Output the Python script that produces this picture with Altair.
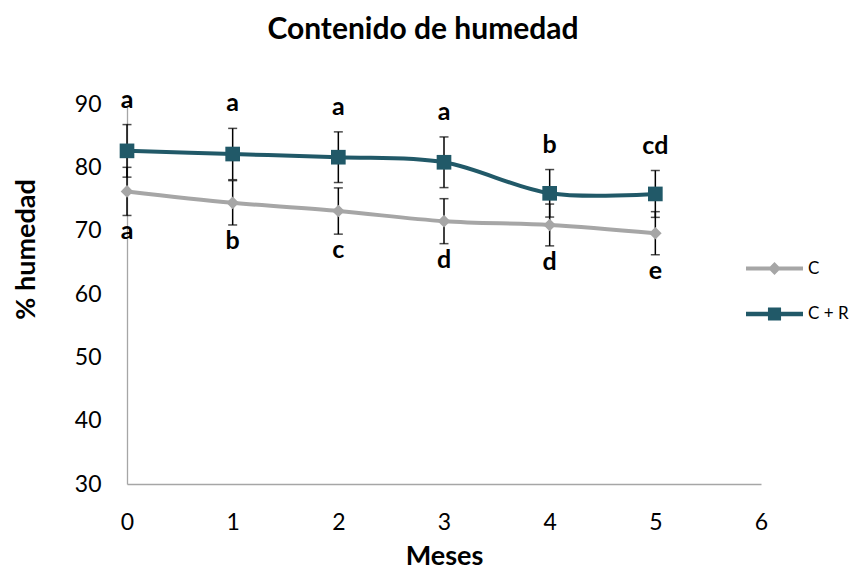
import altair as alt
import pandas as pd

meses = [0, 1, 2, 3, 4, 5]
c_vals = [76.2, 74.4, 73.1, 71.5, 70.9, 69.6]
c_err = [3.8, 3.5, 3.65, 3.55, 3.3, 3.4]
c_letras = ["a", "b", "c", "d", "d", "e"]
cr_vals = [82.6, 82.1, 81.6, 80.8, 75.9, 75.8]
cr_err = [4.15, 4.05, 4.0, 4.0, 3.75, 3.7]
cr_letras = ["a", "a", "a", "a", "b", "cd"]
series = ["C", "C + R"]
colores = ["#A6A6A6", "#215968"]
x_ticks = [0, 1, 2, 3, 4, 5, 6]
y_ticks = [30, 40, 50, 60, 70, 80, 90]

FONT = "Lato"


def make_df(vals, errs, letras, name):
    df = pd.DataFrame({"mes": meses, "val": vals, "err": errs, "letra": letras})
    df["serie"] = name
    df["lo"] = df["val"] - df["err"]
    df["hi"] = df["val"] + df["err"]
    return df


df_c = make_df(c_vals, c_err, c_letras, series[0])
df_cr = make_df(cr_vals, cr_err, cr_letras, series[1])
df_all = pd.concat([df_c, df_cr], ignore_index=True)

xscale = alt.Scale(domain=[0, 6], nice=False, zero=False)
yscale = alt.Scale(domain=[30, 90], nice=False, zero=False)
xaxis = alt.Axis(values=x_ticks, labelPadding=27, format="d", labelFlush=False,
                 titleX=317, titleY=80, titleAlign="center", titleBaseline="alphabetic")
yaxis = alt.Axis(values=y_ticks, labelPadding=26, titleX=-101, titleY=145, labelFlush=False,
                 titleAngle=270, titleAlign="center", titleBaseline="middle")


def X():
    return alt.X("mes:Q", scale=xscale, axis=xaxis, title="Meses")


def Y(field):
    return alt.Y(f"{field}:Q", scale=yscale, axis=yaxis, title="% humedad")


layers = []
# lines
for df, col in [(df_c, colores[0]), (df_cr, colores[1])]:
    layers.append(alt.Chart(df).mark_line(interpolate="cardinal", color=col, strokeWidth=4)
                  .encode(x=X(), y=Y("val")))
# error bars
for df in [df_c, df_cr]:
    base = alt.Chart(df)
    layers.append(base.mark_rule(color="black", strokeWidth=1.5).encode(x=X(), y=Y("lo"), y2="hi:Q"))
    layers.append(base.mark_tick(orient="horizontal", color="black", size=9, thickness=1.5)
                  .encode(x=X(), y=Y("lo")))
    layers.append(base.mark_tick(orient="horizontal", color="black", size=9, thickness=1.5)
                  .encode(x=X(), y=Y("hi")))
# points
layers.append(alt.Chart(df_c).mark_point(shape="diamond", filled=True, opacity=1, size=160, color=colores[0])
              .encode(x=X(), y=Y("val")))
layers.append(alt.Chart(df_cr).mark_point(shape="square", filled=True, opacity=1, size=215, color=colores[1])
              .encode(x=X(), y=Y("val")))
# letters
layers.append(alt.Chart(df_cr).mark_text(font=FONT, fontSize=25, fontWeight="bold", color="black",
                                         baseline="alphabetic", dy=-17)
              .encode(x=X(), y=Y("hi"), text="letra:N"))
layers.append(alt.Chart(df_c).mark_text(font=FONT, fontSize=25, fontWeight="bold", color="black",
                                        baseline="alphabetic", dy=24)
              .encode(x=X(), y=Y("lo"), text="letra:N"))

# legend carrier (invisible)
leg = alt.Legend(title=None, orient="none", legendX=633, legendY=150, symbolOpacity=1,
                 symbolSize=812, labelFont=FONT, labelFontSize=17, labelColor="black", labelOffset=19,
                 rowPadding=22.5, padding=0, symbolStrokeWidth=0)
paths = [
    "M-2,-0.14H2V0.14H-2Z M0,-0.45L0.45,0L0,0.45L-0.45,0Z",
    "M-2,-0.16H2V0.16H-2Z M-0.46,-0.46H0.46V0.46H-0.46Z",
]
layers.append(alt.Chart(df_all).mark_point(filled=True, opacity=0, size=812)
              .encode(x=X(), y=Y("val"),
                      color=alt.Color("serie:N", scale=alt.Scale(domain=series, range=colores), legend=leg),
                      shape=alt.Shape("serie:N", scale=alt.Scale(domain=series, range=paths), legend=leg)))

chart = alt.layer(*layers).properties(
    width=634, height=380,
    title=alt.TitleParams("Contenido de humedad", font=FONT, fontSize=30, fontWeight="bold",
                          color="black", dx=-21, dy=-39, anchor="middle", frame="group"),
    autosize=alt.AutoSizeParams(type="none"),
    padding={"left": 119, "top": 96, "right": 90, "bottom": 87},
).configure_view(stroke=None).configure_axis(
    domainColor="#A6A6A6", domainWidth=1.3, ticks=False, grid=False,
    labelFont=FONT, labelFontSize=23, labelColor="black",
    titleFont=FONT, titleFontSize=27, titleFontWeight="bold", titleColor="black",
)

chart.save("out.html", embed_options={"renderer": "svg", "actions": False})
